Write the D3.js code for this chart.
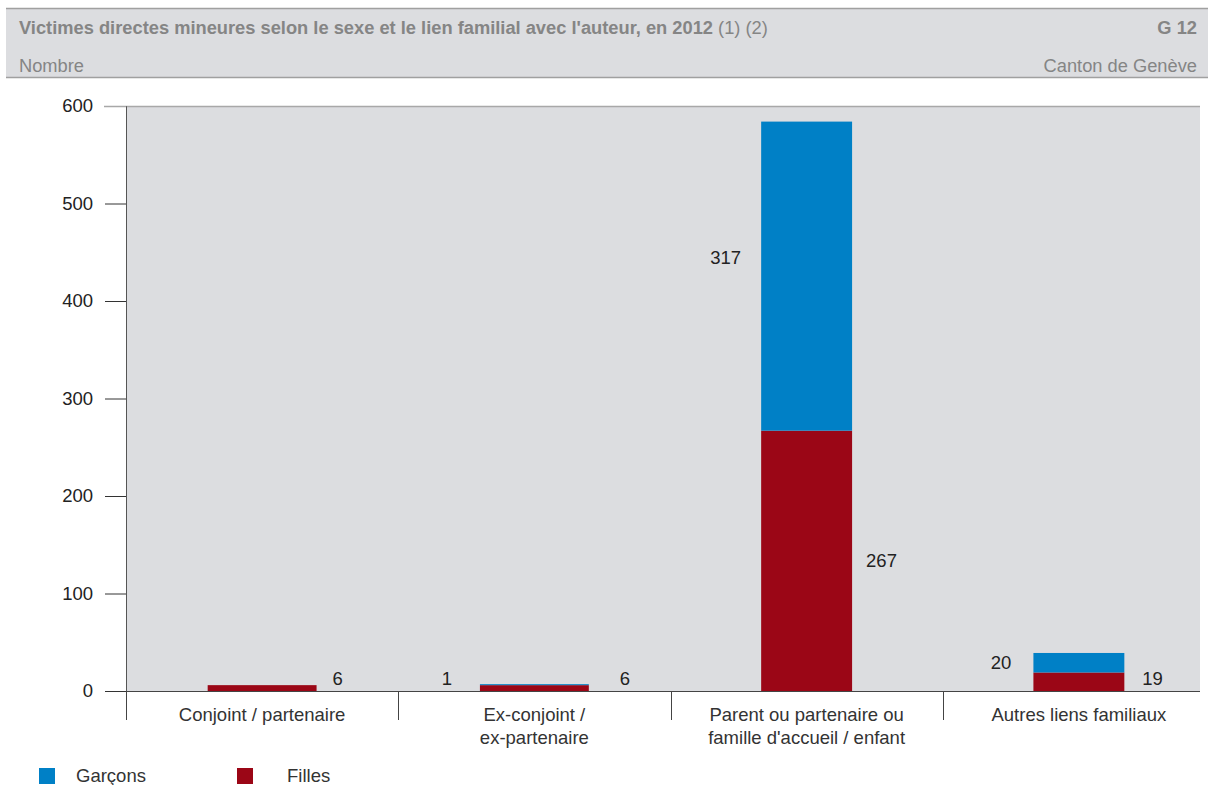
<!DOCTYPE html>
<html><head><meta charset="utf-8">
<script src="https://cdn.jsdelivr.net/npm/d3@7"></script>
<style>body{margin:0;background:#fff;font-family:"Liberation Sans",Arial,sans-serif;}</style>
</head><body><svg id="c" width="1208" height="785"></svg>
<script>
const categories = [["Conjoint / partenaire"], ["Ex-conjoint /", "ex-partenaire"], ["Parent ou partenaire ou", "famille d'accueil / enfant"], ["Autres liens familiaux"]];
const filles = [6, 6, 267, 19];
const garcons = [0, 1, 317, 20];
const yTicks = [0, 100, 200, 300, 400, 500, 600];
const seriesNames = ["Garçons", "Filles"];
const colors = {Garçons: "#0080c6", Filles: "#9b0616"};

// style settings (not data)
const barFrac = [0.4, 0.4, 0.334, 0.334];
const rightGap = [16, 31, 14, 18];
const leftGap = [20, 28, 20, 22];
const leftDy = [0, 0, -19, 0];

const svg = d3.select("#c");
const W = 1208;
const FS = 18.5;
// header
svg.append("rect").attr("x", 6).attr("y", 8).attr("width", W - 6).attr("height", 70).attr("fill", "#dcdde0");
svg.append("line").attr("x1", 6).attr("x2", W).attr("y1", 8.5).attr("y2", 8.5).attr("stroke", "#a0a0a0").attr("stroke-width", 1.5);
svg.append("line").attr("x1", 6).attr("x2", W).attr("y1", 77.5).attr("y2", 77.5).attr("stroke", "#a0a0a0").attr("stroke-width", 1.5);
const HF = 18.3;
const t = svg.append("text").attr("x", 19).attr("y", 34).attr("font-size", HF).attr("fill", "#858585");
t.append("tspan").attr("font-weight", "bold").text("Victimes directes mineures selon le sexe et le lien familial avec l'auteur, en 2012");
t.append("tspan").text(" (1) (2)");
svg.append("text").attr("x", 1197).attr("y", 34).attr("text-anchor", "end").attr("font-size", HF).attr("font-weight", "bold").attr("fill", "#858585").text("G 12");
svg.append("text").attr("x", 19).attr("y", 72).attr("font-size", HF).attr("fill", "#858585").text("Nombre");
svg.append("text").attr("x", 1197).attr("y", 72).attr("text-anchor", "end").attr("font-size", HF).attr("fill", "#858585").text("Canton de Genève");

// plot
const x0 = 126, x1 = 1215, xBg = 1200, yTop = 106, yBot = 691;
const y = d3.scaleLinear().domain([0, 600]).range([yBot, yTop]);
const x = d3.scaleBand().domain(d3.range(categories.length)).range([x0, x1]).paddingInner(0).paddingOuter(0);
const bwOf = i => x.bandwidth() * barFrac[i];
const leftOf = i => x(i) + (x.bandwidth() - bwOf(i)) / 2;

svg.append("rect").attr("x", x0).attr("y", yTop).attr("width", xBg - x0).attr("height", yBot - yTop).attr("fill", "#dcdde0");
svg.append("line").attr("x1", 104).attr("x2", xBg).attr("y1", yTop + 0.5).attr("y2", yTop + 0.5).attr("stroke", "#a8a8a8").attr("stroke-width", 1.5);

const yAxis = d3.axisLeft(y).tickValues(yTicks).tickSize(21).tickPadding(12).tickFormat(d3.format("d"));
const ga = svg.append("g").attr("transform", `translate(${x0},0)`).call(yAxis);
ga.select(".domain").attr("stroke", "#555");
ga.selectAll(".tick line").attr("stroke", "#333");
ga.selectAll(".tick").filter(d => d === 600).select("line").attr("stroke", "#a8a8a8");
ga.selectAll(".tick text").attr("font-size", FS).attr("fill", "#222").attr("font-family", "Liberation Sans, Arial, sans-serif");

// bars
const data = categories.map((c, i) => ({i, Filles: filles[i], Garçons: garcons[i]}));
const stack = d3.stack().keys(["Filles", "Garçons"])(data);
svg.append("g").selectAll("g").data(stack).join("g").attr("fill", d => colors[d.key])
  .selectAll("rect").data(d => d).join("rect")
  .attr("x", d => leftOf(d.data.i))
  .attr("width", d => bwOf(d.data.i))
  .attr("y", d => y(d[1]))
  .attr("height", d => y(d[0]) - y(d[1]));

// x axis line and separators
svg.append("line").attr("x1", x0).attr("x2", xBg).attr("y1", yBot + 0.5).attr("y2", yBot + 0.5).attr("stroke", "#444").attr("stroke-width", 1.2);
const seps = d3.range(categories.length).map(i => x(i));
svg.selectAll(".sep").data(seps).join("line").attr("class", "sep")
  .attr("x1", d => Math.round(d) + 0.5).attr("x2", d => Math.round(d) + 0.5).attr("y1", yBot).attr("y2", 720).attr("stroke", "#444");

// category labels
categories.forEach((lines, i) => {
  const cx = x(i) + x.bandwidth() / 2;
  const tx = svg.append("text").attr("x", cx).attr("y", 721).attr("text-anchor", "middle").attr("font-size", FS).attr("fill", "#333");
  lines.forEach((l, k) => tx.append("tspan").attr("x", cx).attr("dy", k === 0 ? 0 : 23).text(l));
});

// value labels
data.forEach(d => {
  const left = leftOf(d.i);
  const right = left + bwOf(d.i);
  if (d.Filles > 0) {
    const cy = Math.min((y(0) + y(d.Filles)) / 2, yBot - 12);
    svg.append("text").attr("x", right + rightGap[d.i]).attr("y", cy).attr("dy", "0.35em").attr("font-size", FS).attr("fill", "#222").text(d.Filles);
  }
  if (d.Garçons > 0) {
    const cy = Math.min((y(d.Filles) + y(d.Filles + d.Garçons)) / 2, yBot - 12) + leftDy[d.i];
    svg.append("text").attr("x", left - leftGap[d.i]).attr("y", cy).attr("dy", "0.35em").attr("text-anchor", "end").attr("font-size", FS).attr("fill", "#222").text(d.Garçons);
  }
});

// legend
const legX = [39, 237];
const legTX = [76, 287];
seriesNames.forEach((s, i) => {
  svg.append("rect").attr("x", legX[i]).attr("y", 768).attr("width", 16).attr("height", 16).attr("fill", colors[s]);
  svg.append("text").attr("x", legTX[i]).attr("y", 782).attr("font-size", FS).attr("fill", "#333").text(s);
});
</script></body></html>
